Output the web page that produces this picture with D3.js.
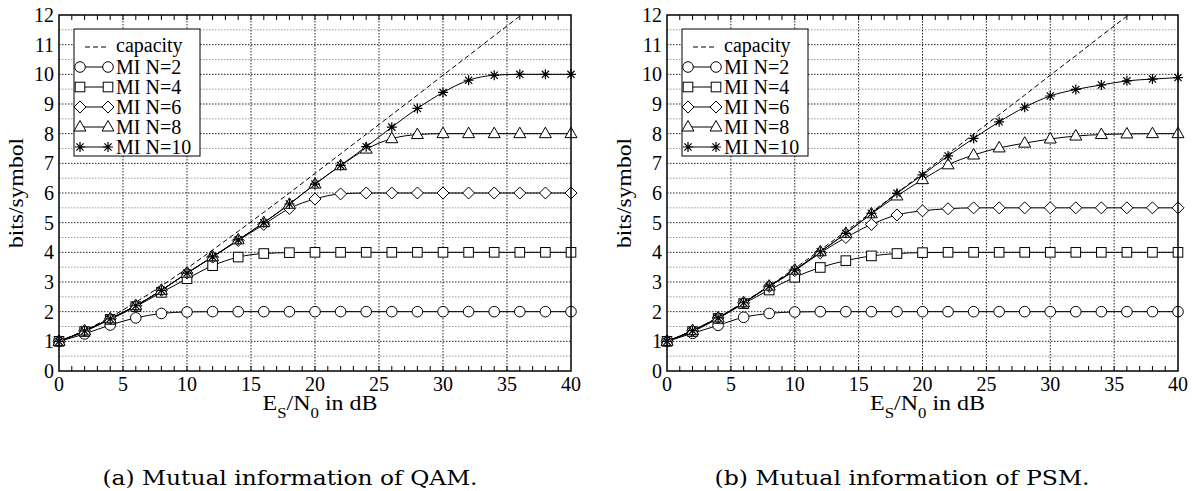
<!DOCTYPE html>
<html>
<head>
<meta charset="utf-8">
<script src="https://cdn.jsdelivr.net/npm/d3@7"></script>
<style>
  body { margin: 0; background: #fff; }
  svg { display: block; }
</style>
</head>
<body>
<svg id="chart" width="1192" height="491"></svg>
<script>
// SNR points (dB) where markers are drawn
const snr = [0, 2, 4, 6, 8, 10, 12, 14, 16, 18, 20, 22, 24, 26, 28, 30, 32, 34, 36, 38, 40];

// Capacity curve
const capacity = [1.00, 1.37, 1.81, 2.32, 2.87, 3.46, 4.08, 4.71, 5.35, 6.00, 6.66,
  7.32, 7.98, 8.64, 9.30, 9.97, 10.63, 11.30, 11.96, 12.62, 13.29];

// QAM mutual information
const qamN2 = [1.00, 1.25, 1.55, 1.79, 1.94, 1.99, 2, 2, 2, 2, 2, 2, 2, 2, 2, 2, 2, 2, 2, 2, 2];
const qamN4 = [1.00, 1.33, 1.74, 2.17, 2.65, 3.11, 3.55, 3.84, 3.96, 3.99, 4, 4, 4, 4, 4, 4, 4, 4, 4, 4, 4];
const qamN6 = [1.00, 1.35, 1.76, 2.20, 2.72, 3.30, 3.84, 4.40, 4.94, 5.48, 5.80, 5.97, 6, 6, 6, 6, 6, 6, 6, 6, 6];
const qamN8 = [1.00, 1.35, 1.76, 2.20, 2.72, 3.30, 3.85, 4.42, 5.00, 5.62, 6.30, 6.92, 7.48, 7.83, 7.97, 8, 8, 8, 8, 8, 8];
const qamN10 = [1.00, 1.35, 1.76, 2.20, 2.72, 3.30, 3.85, 4.42, 5.00, 5.63, 6.30, 6.93, 7.56, 8.22, 8.85, 9.39, 9.80, 9.97, 10, 10, 10];

// PSM mutual information
const psmN2 = [1.00, 1.27, 1.54, 1.81, 1.94, 1.99, 2, 2, 2, 2, 2, 2, 2, 2, 2, 2, 2, 2, 2, 2, 2];
const psmN4 = [1.00, 1.33, 1.77, 2.27, 2.73, 3.16, 3.49, 3.72, 3.88, 3.96, 3.99, 4, 4, 4, 4, 4, 4, 4, 4, 4, 4];
const psmN6 = [1.00, 1.36, 1.79, 2.30, 2.85, 3.38, 3.98, 4.50, 4.94, 5.26, 5.40, 5.47, 5.50, 5.5, 5.5, 5.5, 5.5, 5.5, 5.5, 5.5, 5.5];
const psmN8 = [1.00, 1.36, 1.79, 2.30, 2.86, 3.40, 4.02, 4.64, 5.30, 5.90, 6.45, 6.95, 7.28, 7.52, 7.68, 7.82, 7.92, 7.97, 7.99, 8, 8];
const psmN10 = [1.00, 1.36, 1.79, 2.30, 2.86, 3.40, 4.02, 4.64, 5.31, 5.99, 6.61, 7.25, 7.84, 8.40, 8.89, 9.27, 9.49, 9.64, 9.78, 9.84, 9.89];

// Ticks and labels
const xTicks = [0, 5, 10, 15, 20, 25, 30, 35, 40];
const yTicks = [0, 1, 2, 3, 4, 5, 6, 7, 8, 9, 10, 11, 12];
const seriesNames = ["MI N=2", "MI N=4", "MI N=6", "MI N=8", "MI N=10"];
const markerTypes = ["circle", "square", "diamond", "triangle", "star"];
const captions = ["(a) Mutual information of QAM.", "(b) Mutual information of PSM."];

const FONT = '"Liberation Serif", "Times New Roman", serif';
const svg = d3.select("#chart");

// draw one marker shape at (0,0) inside group g
function drawMarker(g, type) {
  const st = { fill: "#fff", stroke: "#000", "stroke-width": 1 };
  let m;
  if (type === "circle") m = g.append("circle").attr("r", 5.3);
  else if (type === "square") m = g.append("rect").attr("x", -4.8).attr("y", -4.8).attr("width", 9.6).attr("height", 9.6);
  else if (type === "diamond") m = g.append("path").attr("d", "M0,-6L6,0L0,6L-6,0Z");
  else if (type === "triangle") m = g.append("path").attr("d", "M0,-6.5L6,4L-6,4Z");
  else {
    m = g.append("path").attr("d", "M-5,0H5M0,-5V5M-3.6,-3.6L3.6,3.6M-3.6,3.6L3.6,-3.6");
    st.fill = "none"; st["stroke-width"] = 1.2;
  }
  Object.entries(st).forEach(([k, v]) => m.attr(k, v));
}

function label(sel) {
  return sel.style("font-family", FONT).attr("font-size", 20).attr("fill", "#000");
}

function panel(idx, left, right, series) {
  const top = 15, bottom = 371;
  const x = d3.scaleLinear().domain([0, 40]).range([left, right]);
  const y = d3.scaleLinear().domain([0, 12]).range([bottom, top]);
  const g = svg.append("g");

  const clipId = "clip" + idx;
  svg.append("defs").append("clipPath").attr("id", clipId)
    .append("rect").attr("x", left).attr("y", top).attr("width", right - left).attr("height", bottom - top);

  // minor horizontal grid (every 0.5)
  g.selectAll(".ming").data(d3.range(0.5, 12, 1)).enter().append("line")
    .attr("x1", left).attr("x2", right).attr("y1", d => y(d)).attr("y2", d => y(d))
    .attr("stroke", "#9a9a9a").attr("stroke-width", 1).attr("stroke-dasharray", "1.5,1.5");
  // major horizontal grid
  g.selectAll(".majg").data(d3.range(1, 12)).enter().append("line")
    .attr("x1", left).attr("x2", right).attr("y1", d => y(d)).attr("y2", d => y(d))
    .attr("stroke", "#222").attr("stroke-width", 1).attr("stroke-dasharray", "1.5,1.5");
  // vertical grid
  g.selectAll(".vg").data(xTicks.slice(1, -1)).enter().append("line")
    .attr("x1", d => x(d)).attr("x2", d => x(d)).attr("y1", top).attr("y2", bottom)
    .attr("stroke", "#222").attr("stroke-width", 1).attr("stroke-dasharray", "1.5,1.5");

  // minor x ticks every dB, top and bottom, inward
  const minor = d3.range(1, 40);
  g.selectAll(".tb").data(minor).enter().append("line")
    .attr("x1", d => x(d)).attr("x2", d => x(d)).attr("y1", bottom).attr("y2", bottom - 5)
    .attr("stroke", "#000");
  g.selectAll(".tt").data(minor).enter().append("line")
    .attr("x1", d => x(d)).attr("x2", d => x(d)).attr("y1", top).attr("y2", top + 5)
    .attr("stroke", "#000");

  // tick labels
  label(g.selectAll(".xl").data(xTicks).enter().append("text"))
    .attr("x", d => x(d)).attr("y", 391).attr("text-anchor", "middle").text(d => d);
  label(g.selectAll(".yl").data(yTicks).enter().append("text"))
    .attr("x", left - 5).attr("y", d => y(d) + 7).attr("text-anchor", "end").text(d => d);

  // axis titles (the original is a bit wider than the font, so stretch it)
  label(g.append("text"))
    .attr("transform", `translate(${left - 36},${(top + bottom) / 2}) rotate(-90) scale(1.18,1)`)
    .attr("text-anchor", "middle").text("bits/symbol");
  const xt = label(g.append("text"))
    .attr("transform", `translate(${(left + right) / 2 + 5},410) scale(1.2,1)`)
    .attr("text-anchor", "middle");
  xt.append("tspan").text("E");
  xt.append("tspan").attr("font-size", 14).attr("dy", 8).text("S");
  xt.append("tspan").attr("dy", -8).text("/N");
  xt.append("tspan").attr("font-size", 14).attr("dy", 8).text("0");
  xt.append("tspan").attr("dy", -8).text(" in dB");

  // curves
  const pts = snr.map((s, i) => i);
  const cap = g.append("g").attr("clip-path", `url(#${clipId})`);
  cap.append("path")
    .attr("d", d3.line().x(i => x(snr[i])).y(i => y(capacity[i])).curve(d3.curveMonotoneX)(pts))
    .attr("fill", "none").attr("stroke", "#000").attr("stroke-width", 1).attr("stroke-dasharray", "5,3");

  series.forEach(vals => {
    g.append("path")
      .attr("d", d3.line().x(i => x(snr[i])).y(i => y(vals[i])).curve(d3.curveMonotoneX)(pts))
      .attr("fill", "none").attr("stroke", "#000").attr("stroke-width", 1);
  });
  series.forEach((vals, k) => {
    snr.forEach((s, i) => {
      const mg = g.append("g").attr("transform", `translate(${x(s)},${y(vals[i])})`);
      drawMarker(mg, markerTypes[k]);
    });
  });

  // frame
  g.append("rect").attr("x", left).attr("y", top).attr("width", right - left).attr("height", bottom - top)
    .attr("fill", "none").attr("stroke", "#000").attr("stroke-width", 1.5);

  // legend
  const lx = left + 15, ly = 29;
  const lg = g.append("g");
  lg.append("rect").attr("x", lx).attr("y", ly).attr("width", 126).attr("height", 127)
    .attr("fill", "#fff").attr("stroke", "#000").attr("stroke-width", 1);
  const rowY = r => ly + 18 + r * 20;
  lg.append("line").attr("x1", lx + 11).attr("x2", lx + 34).attr("y1", rowY(0)).attr("y2", rowY(0))
    .attr("stroke", "#000").attr("stroke-dasharray", "5,3");
  label(lg.append("text")).attr("x", lx + 42).attr("y", rowY(0) + 5).text("capacity");
  seriesNames.forEach((name, k) => {
    const yy = rowY(k + 1);
    lg.append("line").attr("x1", lx + 6).attr("x2", lx + 34).attr("y1", yy).attr("y2", yy).attr("stroke", "#000");
    drawMarker(lg.append("g").attr("transform", `translate(${lx + 6},${yy})`), markerTypes[k]);
    drawMarker(lg.append("g").attr("transform", `translate(${lx + 34},${yy})`), markerTypes[k]);
    label(lg.append("text")).attr("x", lx + 42).attr("y", yy + 7).text(name);
  });

  // caption
  svg.append("text").attr("x", idx === 0 ? 290 : 902).attr("y", 485)
    .attr("text-anchor", "middle").style("font-family", '"DejaVu Serif", serif').attr("font-size", 20)
    .attr("textLength", 375).attr("lengthAdjust", "spacingAndGlyphs")
    .attr("fill", "#000").text(captions[idx]);
}

panel(0, 59, 571, [qamN2, qamN4, qamN6, qamN8, qamN10]);
panel(1, 667, 1178, [psmN2, psmN4, psmN6, psmN8, psmN10]);
</script>
</body>
</html>
